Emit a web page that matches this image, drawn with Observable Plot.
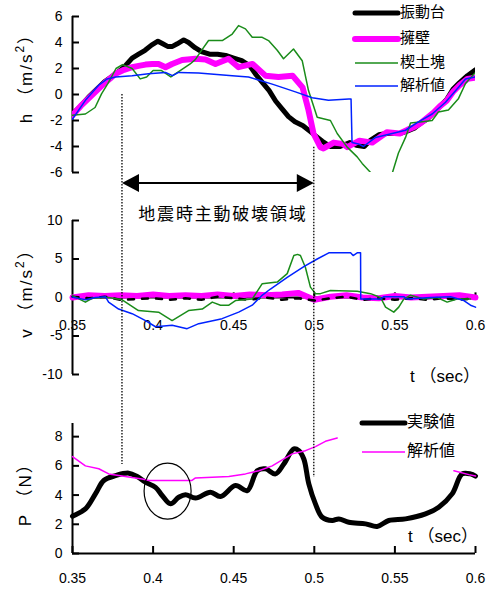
<!DOCTYPE html>
<html><head><meta charset="utf-8">
<script src="https://cdn.jsdelivr.net/npm/d3@7"></script>
<script src="https://cdn.jsdelivr.net/npm/@observablehq/plot@0.6"></script>
<style>
body{margin:0;background:#fff;}
#chart{position:relative;width:495px;height:590px;}
#chart > svg{position:absolute;left:0;}
</style></head><body><div id="chart"></div>
<script>
// ---------- data ----------
const xDomain = [0.35, 0.6];
const xTicks = [0.35, 0.4, 0.45, 0.5, 0.55, 0.6];
const xTickLabels = ["0.35", "0.4", "0.45", "0.5", "0.55", "0.6"];
const hTicks = [-6, -4, -2, 0, 2, 4, 6];
const vTicks = [-10, -5, 0, 5, 10];
const pTicks = [0, 2, 4, 6, 8];

// top panel: horizontal acceleration h (m/s2)
const hShakeT = [0.35,0.355,0.36,0.365,0.37,0.377,0.382,0.387,0.391,0.395,0.399,0.403,0.406,0.409,0.412,0.415,0.419,0.422,0.426,0.43,0.435,0.44,0.445,0.45,0.455,0.46,0.464,0.468,0.472,0.476,0.48,0.484,0.488,0.493,0.497,0.501,0.505,0.51,0.516,0.522,0.526,0.531,0.535,0.54,0.545,0.553,0.558,0.562,0.566,0.57,0.574,0.578,0.582,0.586,0.59,0.595,0.6];
const hShakeV = [-1.5,-0.9,-0.2,0.4,1.0,1.6,2.1,2.8,3.1,3.4,3.8,4.1,3.9,3.7,3.7,3.9,4.2,4.0,3.6,3.3,3.1,3.1,3.0,2.8,2.6,2.2,1.5,0.9,0.3,-0.5,-1.1,-1.7,-2.1,-2.4,-2.8,-3.2,-3.6,-4.0,-4.0,-3.7,-3.9,-4.0,-3.5,-3.1,-3.0,-3.0,-2.8,-2.6,-2.2,-1.9,-1.4,-0.9,-0.4,0.4,0.9,1.45,1.9];
const hWallT = [0.35,0.355,0.36,0.365,0.37,0.374,0.3767,0.382,0.387,0.391,0.3953,0.3995,0.4034,0.4077,0.4118,0.418,0.4263,0.4325,0.4387,0.4468,0.453,0.4617,0.4697,0.4778,0.4865,0.4927,0.4964,0.4995,0.5038,0.5057,0.512,0.5175,0.5204,0.528,0.536,0.545,0.553,0.558,0.562,0.566,0.57,0.574,0.578,0.582,0.586,0.59,0.595,0.6];
const hWallV = [-1.6,-0.9,-0.3,0.3,0.9,1.3,1.6,1.9,2.1,2.2,2.3,2.35,2.35,2.1,2.35,2.65,2.75,2.7,2.35,2.75,2.1,2.35,1.45,1.35,1.45,0.55,-1.2,-3.0,-4.05,-4.15,-3.7,-3.8,-4.05,-3.55,-3.7,-2.9,-3.0,-2.7,-2.5,-2.2,-1.8,-1.4,-0.9,-0.5,0.2,0.7,1.2,1.3];
const hWedgeT = [0.35,0.358,0.364,0.368,0.372,0.377,0.381,0.387,0.392,0.396,0.4,0.405,0.411,0.417,0.423,0.4263,0.4295,0.4344,0.4429,0.4491,0.453,0.4573,0.4615,0.4677,0.4716,0.477,0.4809,0.4871,0.4925,0.4964,0.5018,0.51,0.5142,0.5204,0.5266,0.5297,0.5349,0.539,0.545,0.5485,0.5522,0.5566,0.5597,0.5669,0.5731,0.577,0.5832,0.5895,0.5938,0.6];
const hWedgeV = [-1.6,-1.5,-1.0,0.05,0.85,2.0,2.3,2.0,1.2,1.35,1.85,1.85,1.35,1.85,2.35,2.7,3.3,4.15,4.15,4.65,5.3,5.05,4.4,4.4,4.15,3.4,2.75,3.5,2.6,0.3,-1.75,-2.0,-3.0,-4.05,-4.8,-5.3,-6.0,-7,-7,-6.0,-4.5,-3.3,-2.2,-2.1,-2.0,-1.35,-1.2,-0.3,0.85,1.7];
const hCalcT = [0.35,0.358,0.3661,0.3715,0.3767,0.387,0.3971,0.4077,0.412,0.4158,0.4282,0.4491,0.4592,0.4739,0.4883,0.4987,0.5088,0.5214,0.5228,0.5234,0.5274,0.5305,0.538,0.5483,0.5566,0.5646,0.5731,0.5814,0.5895,0.5938,0.6];
const hCalcV = [-1.9,-0.45,0.7,1.2,1.35,1.45,1.6,1.7,1.45,1.7,1.65,1.45,1.35,0.8,0.2,-0.25,-0.45,-0.35,-0.35,-3.7,-3.8,-4.0,-3.3,-3.0,-2.75,-2.1,-1.5,-0.6,0.55,1.2,1.35];

// middle panel: vertical acceleration v (m/s2)
const vShakeT = [0.35,0.36,0.37,0.38,0.39,0.4,0.41,0.42,0.43,0.44,0.45,0.46,0.47,0.48,0.49,0.5,0.51,0.52,0.53,0.54,0.55,0.56,0.57,0.58,0.59,0.6];
const vShakeV = [0.1,-0.1,0.1,-0.3,-0.2,-0.1,-0.3,-0.1,-0.3,0.1,-0.1,-0.3,0.0,-0.3,-0.1,-0.4,-0.1,0.1,-0.3,-0.1,-0.3,-0.1,-0.3,-0.1,-0.3,-0.1];
const vWallT = [0.35,0.36,0.37,0.38,0.39,0.4,0.41,0.42,0.43,0.44,0.45,0.46,0.47,0.48,0.49,0.5,0.51,0.52,0.53,0.54,0.55,0.56,0.57,0.58,0.59,0.6];
const vWallV = [0.0,0.3,0.2,0.3,0.2,0.4,0.2,0.3,0.2,0.4,0.2,0.4,0.3,0.4,0.6,-0.3,0.1,0.3,0.0,-0.1,0.2,0.0,0.1,0.2,0.3,0.0];
const vWedgeT = [0.35,0.358,0.3622,0.3723,0.3808,0.3909,0.4034,0.4118,0.422,0.4305,0.4367,0.4418,0.447,0.4511,0.4615,0.4677,0.477,0.4832,0.4873,0.4896,0.4914,0.4945,0.4976,0.5007,0.5038,0.51,0.5266,0.5349,0.5411,0.5442,0.5493,0.5524,0.5555,0.5597,0.5679,0.5762,0.5824,0.5886,0.5969];
const vWedgeV = [0.25,-0.6,-0.1,0,-0.3,-1.7,-1.9,-3.0,-1.7,-1.5,-0.6,-1.0,-1.0,-0.4,-0.2,1.8,2.0,3.1,5.45,5.6,5.45,3.9,1.35,0.5,0.5,0.9,0.8,0.5,0,-1.25,-1.9,-1.25,-0.2,0.3,-0.2,0,-0.6,-0.2,-0.2];
const vCalcT = [0.35,0.358,0.3642,0.3704,0.3724,0.3786,0.387,0.3953,0.4015,0.4118,0.4211,0.4283,0.4428,0.4531,0.4615,0.4672,0.4728,0.4832,0.4935,0.5018,0.509,0.5225,0.5241,0.5266,0.5287,0.5288,0.5411,0.5432,0.5555,0.5576,0.5721,0.5845,0.5928,0.5969,0.6];
const vCalcV = [0.05,-0.3,0,0.1,-0.6,-1.5,-2.1,-3.0,-3.8,-3.6,-4.05,-3.4,-2.75,-1.9,-1.0,0.2,1.1,2.6,4.0,5.0,5.8,5.8,5.45,5.8,5.8,-0.2,-0.2,0.1,0.1,-0.2,0,0.1,-0.4,-1.0,-1.25];

// bottom panel: earth pressure P (N)
const pExpT = [0.35,0.3508,0.358,0.3643,0.3694,0.3767,0.3849,0.3901,0.3953,0.4015,0.4056,0.4108,0.4159,0.4201,0.4263,0.4356,0.4418,0.4511,0.4584,0.4646,0.4697,0.4759,0.4811,0.4873,0.4904,0.4935,0.4966,0.5007,0.5049,0.5111,0.5152,0.5214,0.5318,0.539,0.5462,0.5566,0.569,0.5772,0.5855,0.5917,0.5969,0.6];
const pExpV = [2.55,2.6,3.05,4.1,5.0,5.33,5.5,5.27,4.88,4.53,3.97,3.4,3.85,4.03,3.8,4.2,3.9,4.65,4.3,5.67,5.8,5.45,6.13,7.16,7.04,6.47,4.77,3.4,2.48,2.26,2.37,2.14,2.03,1.85,2.26,2.37,2.71,3.17,4.08,5.45,5.45,5.3];
const pCalcT = [0.35,0.358,0.3663,0.3725,0.3828,0.3932,0.3973,0.4241,0.4263,0.447,0.4573,0.4656,0.4739,0.4863,0.4945,0.5007,0.5069,0.5142,0.55,0.5866,0.5959,0.6];
const pCalcV = [6.63,6.0,5.8,5.45,5.27,5.1,5.0,5.0,5.17,5.27,5.45,5.67,6.0,6.82,7.04,7.32,7.68,7.91,null,5.67,5.4,5.3];

// annotations
const regionT = [0.381, 0.5];
const regionTopH = [0, -4.05];
const regionBottomP = [6.1, 5.2];
const arrowH = -6.85;
const regionTitle = "地震時主動破壊領域";
const regionTitleV = 10.6;
const circleT = 0.4093, circleP = 4.24;

const topLegend = ["振動台", "擁壁", "楔土塊", "解析値"];
const topLegendColors = ["#000000", "#ff00ff", "#1a8c1a", "#0022ff"];
const topLegendWidths = [5, 6, 1.5, 1.5];
const bottomLegend = ["実験値", "解析値"];
const bottomLegendColors = ["#000000", "#ff00ff"];
const bottomLegendWidths = [5, 1.5];

// ---------- drawing ----------
const font = '"Liberation Sans", Arial, "Noto Sans CJK JP", sans-serif';
const rows = (ts, vs) => ts.map((t, i) => ({t, v: vs[i]}));
const common = {
  width: 495, marginLeft: 72, marginRight: 20,
  style: {fontFamily: font, fontSize: "14px", color: "#000", background: "transparent", overflow: "visible"}
};
const yAxis = (ticks) => Plot.axisY(ticks, {tickSize: -7, tickPadding: 17, strokeWidth: 2, tickFormat: d => String(d), label: null, fontSize: 14});

const topPlot = Plot.plot({
  ...common, height: 200, marginTop: 16, marginBottom: 28,
  x: {domain: xDomain, axis: null},
  y: {domain: [-6, 6]},
  marks: [
    Plot.ruleX([xDomain[0]], {strokeWidth: 2}),
    yAxis(hTicks),
    Plot.line(rows(hShakeT, hShakeV), {x: "t", y: "v", stroke: topLegendColors[0], strokeWidth: 5, clip: true}),
    Plot.line(rows(hWallT, hWallV), {x: "t", y: "v", stroke: topLegendColors[1], strokeWidth: 6, clip: true}),
    Plot.line(rows(hWedgeT, hWedgeV), {x: "t", y: "v", stroke: topLegendColors[2], strokeWidth: 1.5, clip: true}),
    Plot.line(rows(hCalcT, hCalcV), {x: "t", y: "v", stroke: topLegendColors[3], strokeWidth: 1.5, clip: true})
  ]
});

const midPlot = Plot.plot({
  ...common, height: 200, marginTop: 20, marginBottom: 26,
  x: {domain: xDomain, axis: null},
  y: {domain: [-10, 10]},
  marks: [
    Plot.ruleX([xDomain[0]], {strokeWidth: 2}),
    yAxis(vTicks),
    Plot.ruleY([0], {strokeWidth: 2}),
    Plot.ruleX(xTicks.slice(1), {x: d => d, y1: 0, y2: 0.6, strokeWidth: 2}),
    Plot.text(xTicks, {x: d => d, y: 0, dy: 28, text: d => xTickLabels[xTicks.indexOf(d)], fontSize: 14}),
    Plot.line(rows(vWallT, vWallV), {x: "t", y: "v", stroke: "#ff00ff", strokeWidth: 6}),
    Plot.line(rows(vShakeT, vShakeV), {x: "t", y: "v", stroke: "#000", strokeWidth: 2.5, strokeDasharray: "6,8"}),
    Plot.line(rows(vWedgeT, vWedgeV), {x: "t", y: "v", stroke: topLegendColors[2], strokeWidth: 1.5}),
    Plot.line(rows(vCalcT, vCalcV), {x: "t", y: "v", stroke: topLegendColors[3], strokeWidth: 1.5})
  ]
});

const botPlot = Plot.plot({
  ...common, height: 190, marginTop: 23, marginBottom: 37,
  x: {domain: xDomain},
  y: {domain: [0, 8.9]},
  marks: [
    Plot.ruleX([xDomain[0]], {strokeWidth: 2}),
    Plot.ruleY([0], {strokeWidth: 2}),
    yAxis(pTicks),
    Plot.axisX(xTicks, {tickSize: -7, tickPadding: 27, strokeWidth: 2, tickFormat: d => xTickLabels[xTicks.indexOf(d)], label: null, fontSize: 14}),
    Plot.line(rows(pExpT, pExpV), {x: "t", y: "v", stroke: "#000", strokeWidth: 5, curve: "catmull-rom"}),
    Plot.line(rows(pCalcT, pCalcV), {x: "t", y: "v", stroke: "#ff00ff", strokeWidth: 1.5})
  ]
});

const root = document.getElementById("chart");
const offsets = [0, 200, 400];
[topPlot, midPlot, botPlot].forEach((p, i) => { p.style.top = offsets[i] + "px"; root.appendChild(p); });

// scales from the plots
const lin = (p, k, off = 0) => {
  const s = p.scale(k);
  return d3.scaleLinear(s.domain, s.range.map(r => r + off));
};
const sx = lin(topPlot, "x");
const syTop = lin(topPlot, "y", 0);
const syMid = lin(midPlot, "y", 200);
const syBot = lin(botPlot, "y", 400);

const ov = d3.select(root).append("svg")
  .attr("width", 495).attr("height", 590)
  .style("top", "0px").style("font-family", font);

// dotted region boundaries
regionT.forEach((t, i) => {
  ov.append("line").attr("x1", sx(t)).attr("x2", sx(t))
    .attr("y1", syTop(regionTopH[i])).attr("y2", syBot(regionBottomP[i]))
    .attr("stroke", "#000").attr("stroke-width", 1.3).attr("stroke-dasharray", "1.5,1.5");
});
// double arrow
const ay = syTop(arrowH), ax1 = sx(regionT[0]), ax2 = sx(regionT[1]);
ov.append("line").attr("x1", ax1 + 10).attr("x2", ax2 - 10).attr("y1", ay).attr("y2", ay)
  .attr("stroke", "#000").attr("stroke-width", 2);
ov.append("path").attr("d", `M${ax1},${ay}L${ax1 + 17},${ay - 9}L${ax1 + 17},${ay + 9}Z`).attr("fill", "#000");
ov.append("path").attr("d", `M${ax2},${ay}L${ax2 - 17},${ay - 9}L${ax2 - 17},${ay + 9}Z`).attr("fill", "#000");
ov.append("text").attr("x", (ax1 + ax2) / 2 + 5).attr("y", syMid(regionTitleV))
  .attr("text-anchor", "middle").attr("dominant-baseline", "middle")
  .attr("font-size", 17).attr("letter-spacing", 1.8).attr("fill", "#000").text(regionTitle);

// circle
ov.append("ellipse").attr("cx", sx(circleT)).attr("cy", syBot(circleP)).attr("rx", 23.5).attr("ry", 28)
  .attr("fill", "none").attr("stroke", "#000").attr("stroke-width", 1.2);

// axis titles
function yTitle(main, sup, close, cx, cy) {
  const t = ov.append("text").attr("transform", `translate(${cx},${cy}) rotate(-90)`)
    .attr("text-anchor", "middle").attr("dominant-baseline", "middle").attr("font-size", 17)
    .attr("letter-spacing", 2).attr("fill", "#000");
  t.append("tspan").text(main);
  if (sup) t.append("tspan").attr("baseline-shift", "super").attr("font-size", 12).text(sup);
  t.append("tspan").text(close);
}
yTitle("h （m/s", "2", "）", 28, (syTop(6) + syTop(-6)) / 2 - 20);
yTitle("v （m/s", "2", "）", 28, syMid(0) - 8);
yTitle("P （N）", null, "", 27, syBot(4.3));

ov.append("text").attr("x", 480).attr("y", 378).attr("text-anchor", "end").attr("dominant-baseline", "middle")
  .attr("font-size", 17).attr("fill", "#000").text("t （sec）");
ov.append("text").attr("x", 478).attr("y", 538).attr("text-anchor", "end").attr("dominant-baseline", "middle")
  .attr("font-size", 17).attr("fill", "#000").text("t （sec）");

// legends
const legendRowsTop = [13, 39, 63, 86];
topLegend.forEach((lab, i) => {
  ov.append("line").attr("x1", 355).attr("x2", 398).attr("y1", legendRowsTop[i]).attr("y2", legendRowsTop[i])
    .attr("stroke", topLegendColors[i]).attr("stroke-width", topLegendWidths[i]).attr("stroke-linecap", topLegendWidths[i] > 2 ? "round" : "butt");
  ov.append("text").attr("x", 400).attr("y", legendRowsTop[i]).attr("dominant-baseline", "middle")
    .attr("font-size", 15).attr("fill", "#000").text(lab);
});
const legendRowsBot = [423, 452];
bottomLegend.forEach((lab, i) => {
  ov.append("line").attr("x1", 362).attr("x2", 405).attr("y1", legendRowsBot[i]).attr("y2", legendRowsBot[i])
    .attr("stroke", bottomLegendColors[i]).attr("stroke-width", bottomLegendWidths[i]).attr("stroke-linecap", bottomLegendWidths[i] > 2 ? "round" : "butt");
  ov.append("text").attr("x", 407).attr("y", legendRowsBot[i]).attr("dominant-baseline", "middle")
    .attr("font-size", 16).attr("fill", "#000").text(lab);
});
</script></body></html>
